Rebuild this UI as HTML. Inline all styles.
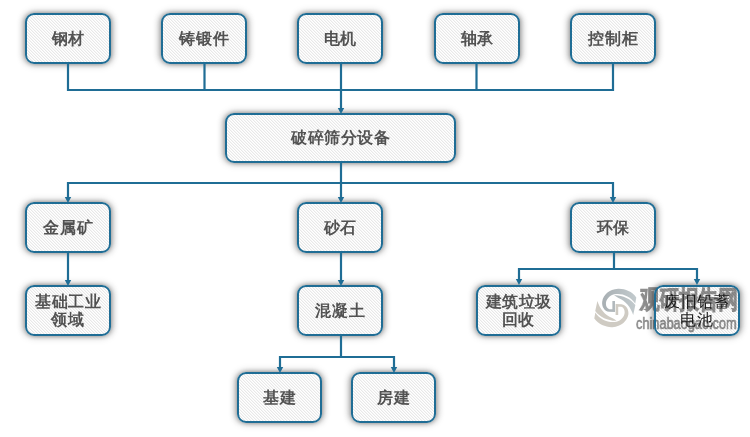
<!DOCTYPE html>
<html><head><meta charset="utf-8">
<style>
html,body{margin:0;padding:0;background:#fff;width:750px;height:437px;overflow:hidden;position:relative}
.s{position:absolute;box-sizing:border-box;border-radius:9px;box-shadow:0 0 8px rgba(0,0,0,0.28),0 0 4px rgba(0,0,0,0.18),-3px 0 6px -1px rgba(0,0,0,0.16),3px 0 6px -1px rgba(0,0,0,0.16)}
.b{position:absolute;box-sizing:border-box;border:2px solid #1f6d95;border-radius:9px;will-change:transform;
display:flex;align-items:center;justify-content:center;text-align:center;
font-family:"Liberation Serif",serif;font-weight:bold;font-size:16px;line-height:18px;color:#525252;letter-spacing:0.6px;text-indent:0.6px}
svg{position:absolute;left:0;top:0}
.wm{position:absolute;will-change:transform;font-family:"Liberation Sans",sans-serif;white-space:nowrap}
</style></head><body>
<div class="s" style="left:25px;top:13px;width:86px;height:51px"></div>
<div class="s" style="left:161px;top:13px;width:86px;height:51px"></div>
<div class="s" style="left:297px;top:13px;width:86px;height:51px"></div>
<div class="s" style="left:434px;top:13px;width:86px;height:51px"></div>
<div class="s" style="left:570px;top:13px;width:86px;height:51px"></div>
<div class="s" style="left:225px;top:113px;width:231px;height:50px"></div>
<div class="s" style="left:25px;top:202px;width:86px;height:51px"></div>
<div class="s" style="left:297px;top:202px;width:86px;height:51px"></div>
<div class="s" style="left:570px;top:202px;width:86px;height:51px"></div>
<div class="s" style="left:25px;top:285px;width:86px;height:51px"></div>
<div class="s" style="left:297px;top:285px;width:86px;height:51px"></div>
<div class="s" style="left:476px;top:285px;width:85px;height:51px"></div>
<div class="s" style="left:654px;top:285px;width:86px;height:51px"></div>
<div class="s" style="left:237px;top:372px;width:85px;height:51px"></div>
<div class="s" style="left:351px;top:372px;width:85px;height:51px"></div>
<svg width="750" height="437" viewBox="0 0 750 437" shape-rendering="crispEdges">
<defs><pattern id="h" x="0" y="0" width="3" height="3" patternUnits="userSpaceOnUse">
<rect width="3" height="3" fill="#fff"/>
<rect x="1" y="0" width="1" height="1" fill="#e8e8e8"/><rect x="2" y="1" width="1" height="1" fill="#e8e8e8"/><rect x="0" y="2" width="1" height="1" fill="#e8e8e8"/>
<rect x="2" y="0" width="1" height="1" fill="#f6f6f6"/><rect x="0" y="1" width="1" height="1" fill="#f6f6f6"/><rect x="1" y="2" width="1" height="1" fill="#f6f6f6"/>
</pattern></defs>
<rect x="26" y="14" width="84" height="49" rx="8" fill="url(#h)" shape-rendering="geometricPrecision"/>
<rect x="162" y="14" width="84" height="49" rx="8" fill="url(#h)" shape-rendering="geometricPrecision"/>
<rect x="298" y="14" width="84" height="49" rx="8" fill="url(#h)" shape-rendering="geometricPrecision"/>
<rect x="435" y="14" width="84" height="49" rx="8" fill="url(#h)" shape-rendering="geometricPrecision"/>
<rect x="571" y="14" width="84" height="49" rx="8" fill="url(#h)" shape-rendering="geometricPrecision"/>
<rect x="226" y="114" width="229" height="48" rx="8" fill="url(#h)" shape-rendering="geometricPrecision"/>
<rect x="26" y="203" width="84" height="49" rx="8" fill="url(#h)" shape-rendering="geometricPrecision"/>
<rect x="298" y="203" width="84" height="49" rx="8" fill="url(#h)" shape-rendering="geometricPrecision"/>
<rect x="571" y="203" width="84" height="49" rx="8" fill="url(#h)" shape-rendering="geometricPrecision"/>
<rect x="26" y="286" width="84" height="49" rx="8" fill="url(#h)" shape-rendering="geometricPrecision"/>
<rect x="298" y="286" width="84" height="49" rx="8" fill="url(#h)" shape-rendering="geometricPrecision"/>
<rect x="477" y="286" width="83" height="49" rx="8" fill="url(#h)" shape-rendering="geometricPrecision"/>
<rect x="655" y="286" width="84" height="49" rx="8" fill="url(#h)" shape-rendering="geometricPrecision"/>
<rect x="238" y="373" width="83" height="49" rx="8" fill="url(#h)" shape-rendering="geometricPrecision"/>
<rect x="352" y="373" width="83" height="49" rx="8" fill="url(#h)" shape-rendering="geometricPrecision"/>
</svg>
<svg width="750" height="437" viewBox="0 0 750 437">
<g stroke="#1f6d95" stroke-width="2.2" fill="none" stroke-linecap="butt" stroke-linejoin="miter">
<path d="M68 63V90H613V63M204.5 63V90M341 63V90M476.5 63V90M341 90V109"/>
<path d="M341 162V197M68 197V183H613V197"/>
<path d="M68 252V280M341 252V280"/>
<path d="M614 252V269M519 280V269H697V280"/>
<path d="M341 335V357M280 367V357H394V367"/>
</g>
<g fill="#1f6d95">
<path d="M337.8 108L344.2 108L341 114Z"/>
<path d="M64.8 197L71.2 197L68 203Z"/>
<path d="M337.8 197L344.2 197L341 203Z"/>
<path d="M609.8 197L616.2 197L613 203Z"/>
<path d="M64.8 280L71.2 280L68 286Z"/>
<path d="M337.8 280L344.2 280L341 286Z"/>
<path d="M515.8 279L522.2 279L519 285Z"/>
<path d="M693.8 279L700.2 279L697 285Z"/>
<path d="M276.8 367L283.2 367L280 373Z"/>
<path d="M390.8 367L397.2 367L394 373Z"/>
</g>
</svg>
<svg width="750" height="437" viewBox="0 0 750 437">
<defs>
<linearGradient id="gg" x1="600" y1="300" x2="636" y2="300" gradientUnits="userSpaceOnUse"><stop offset="0" stop-color="#a6adb1"/><stop offset="1" stop-color="#c3cbce"/></linearGradient>
<linearGradient id="bg" x1="594" y1="315" x2="630" y2="315" gradientUnits="userSpaceOnUse"><stop offset="0" stop-color="#d2cec6"/><stop offset="1" stop-color="#cbc7bf"/></linearGradient>
<g id="sw">
<path d="M635.2 297.3 C631 291.5 624 288.8 617.7 289.1 C609 289.5 603.5 295 602.4 301.4 C601.8 306 604.5 310.5 609 311.2 L614.7 311.4 L614.7 300.7 L612.2 300.7 L612.2 308.8 L609.2 308.7 C607 308 605.8 305.5 606 303 C606.3 299 609.5 295.5 614 294.3 C621 292.8 629.5 296 634.2 303.2 Z"/>
<path d="M613.8 295.2 C621 294.8 630 298.5 634.3 304.6 L632.2 314.2 C630 307 625 300.5 618 297.8 C616.5 297 615 296 613.8 295.2 Z"/>
</g>
</defs>
<g transform="translate(615.3 308) scale(1.04) translate(-615 -307.5)">
<use href="#sw" fill="url(#gg)"/>
<g transform="rotate(180 615 307.5)"><use href="#sw" fill="#cfcbc3"/></g>
</g>
</svg>
<div class="wm" style="left:640px;top:285px;font-size:25px;line-height:29px;font-weight:bold;color:#8e8e8e;-webkit-text-stroke:0.9px #8e8e8e;mix-blend-mode:multiply;transform-origin:0 0;transform:scaleX(0.785)">观研报告网</div>
<div class="wm" style="left:636px;top:314px;font-size:17px;line-height:20px;color:#8a8a8a;-webkit-text-stroke:0.6px #8a8a8a;mix-blend-mode:multiply;transform-origin:0 0;transform:scaleX(0.75)">chinabaogao.com</div>
<div class="b" style="left:25px;top:13px;width:86px;height:51px">钢材</div>
<div class="b" style="left:161px;top:13px;width:86px;height:51px">铸锻件</div>
<div class="b" style="left:297px;top:13px;width:86px;height:51px">电机</div>
<div class="b" style="left:434px;top:13px;width:86px;height:51px">轴承</div>
<div class="b" style="left:570px;top:13px;width:86px;height:51px">控制柜</div>
<div class="b" style="left:225px;top:113px;width:231px;height:50px">破碎筛分设备</div>
<div class="b" style="left:25px;top:202px;width:86px;height:51px">金属矿</div>
<div class="b" style="left:297px;top:202px;width:86px;height:51px">砂石</div>
<div class="b" style="left:570px;top:202px;width:86px;height:51px">环保</div>
<div class="b" style="left:25px;top:285px;width:86px;height:51px">基础工业<br>领域</div>
<div class="b" style="left:297px;top:285px;width:86px;height:51px">混凝土</div>
<div class="b" style="left:476px;top:285px;width:85px;height:51px">建筑垃圾<br>回收</div>
<div class="b" style="left:654px;top:285px;width:86px;height:51px;font-weight:normal;color:#1a1a1a">废旧铅蓄<br>电池</div>
<div class="b" style="left:237px;top:372px;width:85px;height:51px">基建</div>
<div class="b" style="left:351px;top:372px;width:85px;height:51px">房建</div>
</body></html>
